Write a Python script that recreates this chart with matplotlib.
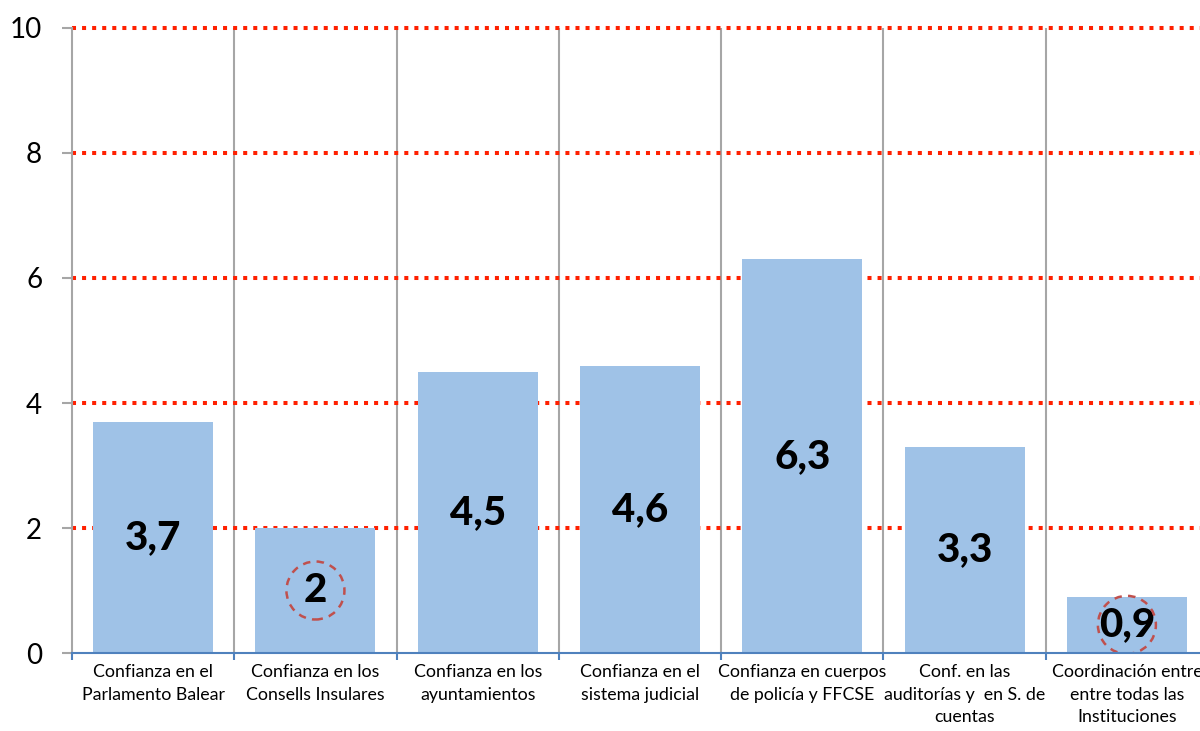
import matplotlib.pyplot as plt
from matplotlib.patches import Ellipse
import numpy as np

# datos
categorias = ["Confianza en el\nParlamento Balear",
              "Confianza en los\nConsells Insulares",
              "Confianza en los\nayuntamientos",
              "Confianza en el\nsistema judicial",
              "Confianza en cuerpos\nde policía y FFCSE",
              "Conf. en las\nauditorías y  en S. de\ncuentas",
              "Coordinación entre\nentre todas las\nInstituciones"]
valores = [3.7, 2.0, 4.5, 4.6, 6.3, 3.3, 0.9]
etiquetas = ["3,7", "2", "4,5", "4,6", "6,3", "3,3", "0,9"]
marcados = [1, 6]  # barras con circulo discontinuo

plt.rcParams['font.family'] = ['Lato', 'DejaVu Sans']

fig = plt.figure(figsize=(12, 7.31), dpi=100)
ax = fig.add_axes([0.06, 0.1067, 0.9467, 0.855])

x = np.arange(len(valores))
ax.bar(x, valores, width=0.74, color='#9fc2e7', zorder=3)

ax.set_xlim(-0.5, len(valores) - 0.5)
ax.set_ylim(0, 10)

# lineas rojas punteadas
for y in range(2, 11, 2):
    ax.axhline(y, color='#ff2000', linewidth=2.9, linestyle=(0, (1, 1.5)),
               dash_capstyle='butt', zorder=2, clip_on=False)

# lineas verticales grises entre categorias
for b in np.arange(0.5, len(valores) - 0.5, 1):
    ax.axvline(b, color='#a6a6a6', linewidth=1.5, zorder=1)

# etiquetas dentro de las barras
for i, (v, t) in enumerate(zip(valores, etiquetas)):
    ax.text(i, v / 2, t, ha='center', va='center', fontsize=29,
            fontweight='black', color='black', zorder=5)

# circulos discontinuos
for i in marcados:
    w = 58 / (ax.bbox.width) * (ax.get_xlim()[1] - ax.get_xlim()[0])
    h = 58 / (ax.bbox.height) * 10
    ax.add_patch(Ellipse((i, valores[i] / 2), w, h, fill=False,
                         edgecolor='#c0504d', linewidth=1.8,
                         linestyle=(0, (3, 2.5)), zorder=6))

ax.set_xticks(x)
ax.set_xticklabels(categorias, fontsize=12.8, linespacing=1.5, va='top')
ax.tick_params(axis='x', which='major', length=0, pad=8)
ax.set_xticks(np.arange(-0.5, len(valores) + 0.5, 1), minor=True)
ax.tick_params(axis='x', which='minor', length=5, width=1.5, color='#4f81bd')

ax.set_yticks(range(0, 11, 2))
ax.tick_params(axis='y', length=7.5, width=1.5, color='#a6a6a6',
               labelsize=20, pad=14)

for s in ['top', 'right']:
    ax.spines[s].set_visible(False)
ax.spines['left'].set_color('#a6a6a6')
ax.spines['left'].set_linewidth(1.5)
ax.spines['bottom'].set_color('#4f81bd')
ax.spines['bottom'].set_linewidth(1.5)
ax.spines['bottom'].set_zorder(7)

fig.savefig('out.png', dpi=100)
